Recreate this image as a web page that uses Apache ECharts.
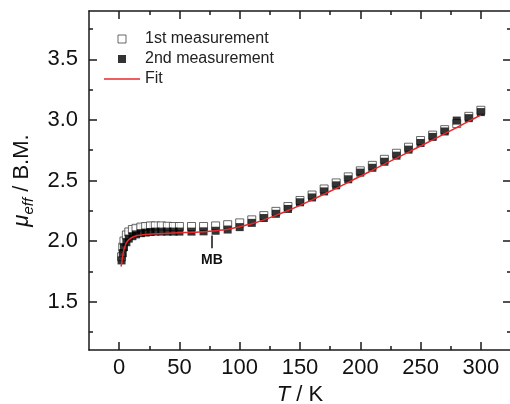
<!DOCTYPE html>
<html><head><meta charset="utf-8">
<script src="https://cdn.jsdelivr.net/npm/echarts@6/dist/echarts.min.js"></script>
<style>html,body{margin:0;padding:0;background:#fff}#c{width:510px;height:404px}</style>
</head><body><div id="c"></div>
<script>
// ---- data ----
const tFirst  = [2, 3, 4, 6, 8, 11, 14, 18, 22, 26, 30, 35, 40, 45, 50, 60, 70, 80, 90, 100, 110, 120, 130, 140, 150, 160, 170, 180, 190, 200, 210, 220, 230, 240, 250, 260, 270, 280, 290, 300];
const muFirst = [1.87, 1.95, 2.00, 2.05, 2.075, 2.095, 2.105, 2.115, 2.12, 2.125, 2.125, 2.125, 2.122, 2.12, 2.12, 2.12, 2.12, 2.125, 2.135, 2.15, 2.175, 2.21, 2.245, 2.285, 2.335, 2.38, 2.43, 2.48, 2.53, 2.58, 2.625, 2.675, 2.725, 2.775, 2.83, 2.875, 2.92, 2.97, 3.03, 3.08];
const tSecond  = [2, 3, 4, 6, 8, 11, 14, 18, 22, 26, 30, 35, 40, 45, 50, 60, 70, 80, 90, 100, 110, 120, 130, 140, 150, 160, 170, 180, 190, 200, 210, 220, 230, 240, 250, 260, 270, 280, 290, 300];
const muSecond = [1.84, 1.90, 1.95, 1.99, 2.02, 2.04, 2.055, 2.065, 2.07, 2.075, 2.078, 2.078, 2.078, 2.078, 2.078, 2.078, 2.08, 2.085, 2.095, 2.115, 2.15, 2.19, 2.225, 2.265, 2.32, 2.36, 2.41, 2.46, 2.51, 2.565, 2.605, 2.655, 2.705, 2.755, 2.81, 2.86, 2.905, 2.995, 3.015, 3.065];
const tFit  = [1.5, 2, 3, 4, 5, 6, 8, 10, 12, 15, 20, 30, 40, 50, 60, 70, 80, 90, 100, 110, 120, 130, 140, 150, 160, 170, 180, 190, 200, 210, 220, 230, 240, 250, 260, 270, 280, 290, 300];
const muFit = [1.79, 1.81, 1.88, 1.93, 1.96, 1.985, 2.01, 2.025, 2.035, 2.045, 2.052, 2.06, 2.064, 2.068, 2.072, 2.077, 2.085, 2.097, 2.118, 2.142, 2.175, 2.212, 2.252, 2.295, 2.34, 2.387, 2.435, 2.485, 2.535, 2.585, 2.635, 2.685, 2.735, 2.785, 2.835, 2.887, 2.938, 2.99, 3.04];
const xMajorTicks = [0, 50, 100, 150, 200, 250, 300];
const xMinorTicks = [25, 75, 125, 175, 225, 275];
const yMajorTicks = [1.5, 2.0, 2.5, 3.0, 3.5];
const yMinorTicks = [1.25, 1.75, 2.25, 2.75, 3.25, 3.75];
const seriesNames = ['1st measurement', '2nd measurement', 'Fit'];
const mbT = 77, mbLineTop = 2.045, mbLineBottom = 1.94, mbLabelMu = 1.84, mbText = 'MB';

const zip = (a, b) => a.map((v, i) => [v, b[i]]);
const FONT = 'Liberation Sans, Arial, sans-serif';
const X_MIN = -25, X_MAX = 325, Y_MIN = 1.1, Y_MAX = 3.9;
const AX = '#1a1a1a';
const RED = '#e8282b';

function xAx(pos, ticks, len, opts) {
  return Object.assign({
    type: 'value', position: pos, min: X_MIN, max: X_MAX,
    axisLine: { show: false, onZero: false }, splitLine: { show: false },
    axisTick: { show: true, inside: true, length: len, customValues: ticks, lineStyle: { color: AX, width: 1.5 } },
    axisLabel: { show: false }
  }, opts || {});
}
function yAx(pos, ticks, len, opts) {
  return Object.assign({
    type: 'value', position: pos, min: Y_MIN, max: Y_MAX,
    axisLine: { show: false, onZero: false }, splitLine: { show: false },
    axisTick: { show: true, inside: true, length: len, customValues: ticks, lineStyle: { color: AX, width: 1.5 } },
    axisLabel: { show: false }
  }, opts || {});
}

const chart = echarts.init(document.getElementById('c'), null, { renderer: 'canvas' });
chart.setOption({
  animation: false,
  backgroundColor: '#fff',
  textStyle: { fontFamily: FONT },
  grid: { left: 89, top: 11, right: -1, bottom: 54, containLabel: false, outerBoundsMode: 'none' },
  legend: {
    orient: 'vertical', left: 104, top: 31, padding: 0, itemWidth: 36, itemHeight: 8, itemGap: 4,
    textStyle: { fontFamily: FONT, fontSize: 16, color: '#222', lineHeight: 16 },
    data: [
      { name: seriesNames[0], icon: 'path://M0,0L10,0L10,10L0,10Z', symbolKeepAspect: true,
        itemStyle: { color: '#fff', borderColor: '#444', borderWidth: 1 } },
      { name: seriesNames[1], icon: 'path://M0,0L10,0L10,10L0,10Z', symbolKeepAspect: true,
        itemStyle: { color: '#000', borderWidth: 0 } },
      { name: seriesNames[2], icon: 'path://M0,0L36,0L36,1.5L0,1.5Z', symbolKeepAspect: true,
        itemStyle: { color: RED, borderWidth: 0 } }
    ]
  },
  xAxis: [
    xAx('bottom', xMajorTicks, 8, {
      axisLine: { show: true, onZero: false, lineStyle: { color: AX, width: 1.5 } },
      axisLabel: { show: true, customValues: xMajorTicks, fontSize: 22, color: '#111', margin: 7, fontFamily: FONT },
      name: '{i|T}{n| / K}', nameLocation: 'middle', nameGap: 32,
      nameTextStyle: { fontFamily: FONT, rich: {
        i: { fontSize: 22, fontStyle: 'italic', color: '#111', fontFamily: FONT },
        n: { fontSize: 22, color: '#111', fontFamily: FONT } } }
    }),
    xAx('bottom', xMinorTicks, 4),
    xAx('top', xMajorTicks, 8, { axisLine: { show: true, onZero: false, lineStyle: { color: AX, width: 1.5 } } }),
    xAx('top', xMinorTicks, 4)
  ],
  yAxis: [
    yAx('left', yMajorTicks, 8, {
      axisLine: { show: true, onZero: false, lineStyle: { color: AX, width: 1.5 } },
      axisLabel: { show: true, customValues: yMajorTicks, fontSize: 22, color: '#111', margin: 11, fontFamily: FONT,
        formatter: v => Number(v).toFixed(1) },
      name: '{i|μ}{s|eff}{n| / B.M.}', nameLocation: 'middle', nameGap: 50, nameRotate: 90,
      nameTextStyle: { fontFamily: FONT, rich: {
        i: { fontSize: 22, fontStyle: 'italic', color: '#111', fontFamily: FONT, lineHeight: 30 },
        s: { fontSize: 15, fontStyle: 'italic', color: '#111', fontFamily: FONT, lineHeight: 12, verticalAlign: 'bottom' },
        n: { fontSize: 22, color: '#111', fontFamily: FONT, lineHeight: 30 } } }
    }),
    yAx('left', yMinorTicks, 4),
    yAx('right', yMajorTicks, 8, { axisLine: { show: true, onZero: false, lineStyle: { color: AX, width: 1.5 } } }),
    yAx('right', yMinorTicks, 4)
  ],
  series: [
    {
      name: seriesNames[0], type: 'scatter', xAxisIndex: 0, yAxisIndex: 0,
      symbol: 'rect', symbolSize: 8, z: 2,
      itemStyle: { color: '#fff', borderColor: '#444', borderWidth: 1 },
      data: zip(tFirst, muFirst)
    },
    {
      name: seriesNames[1], type: 'scatter', xAxisIndex: 0, yAxisIndex: 0,
      symbol: 'rect', symbolSize: 8, z: 3,
      itemStyle: { color: '#000', borderWidth: 0 },
      data: zip(tSecond, muSecond),
      markLine: {
        silent: true, symbol: 'none', animation: false,
        lineStyle: { color: '#111', width: 1.5, type: 'solid' }, label: { show: false },
        data: [[{ coord: [mbT, mbLineTop] }, { coord: [mbT, mbLineBottom] }]]
      },
      markPoint: {
        silent: true, symbol: 'circle', symbolSize: 1, animation: false,
        itemStyle: { color: 'rgba(0,0,0,0)' },
        label: { show: true, position: 'inside', formatter: mbText, fontFamily: FONT, fontSize: 14, fontWeight: 'bold', color: '#111' },
        data: [{ coord: [mbT, mbLabelMu] }]
      }
    },
    {
      name: seriesNames[2], type: 'line', xAxisIndex: 0, yAxisIndex: 0,
      symbol: 'none', smooth: 0.3, z: 4,
      lineStyle: { color: RED, width: 1.5 },
      itemStyle: { color: RED },
      data: zip(tFit, muFit)
    }
  ]
});
</script></body></html>
